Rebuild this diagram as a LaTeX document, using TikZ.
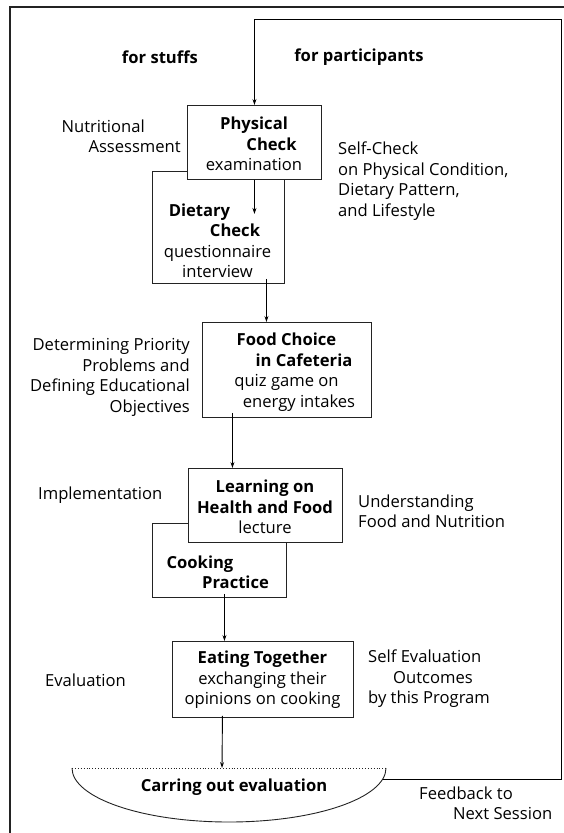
\documentclass[tikz,border=0pt]{standalone}
\usepackage{fontspec}
\setmainfont{Open Sans}
\usepackage{tikz}
\usetikzlibrary{arrows.meta,positioning,calc}
\definecolor{linegray}{RGB}{35,35,35}
\tikzset{
  box/.style={
    draw=linegray,
    line width=0.9pt,
    fill=white,
    inner sep=0pt,
    anchor=north west
  },
  txt/.style={align=center, inner sep=0pt, font=\fontsize{16.6}{20.5}\selectfont},
  note/.style={align=left, inner sep=0pt, anchor=west, font=\fontsize{16.6}{20.5}\selectfont},
  head/.style={inner sep=0pt, font=\fontsize{16.6}{20.5}\selectfont\bfseries},
  flow/.style={-{Stealth[length=6pt,width=4pt]}, line width=0.9pt, draw=black}
}

\begin{document}
\begin{tikzpicture}[x=1pt, y=1pt]
    \useasboundingbox (0,0) rectangle (564,-833);
    % outer frame
    \draw[linegray, line width=1.2pt] (564,-7) -- (10,-7) -- (10,-833);
    \node[head] (h1) at (160,-57) {for stuffs};
    \node[head] (h2) at (359,-57) {for participants};
    % boxes
    \node[box, minimum width=132, minimum height=112] (n2) at (152,-171) {};
    \node[box, minimum width=134, minimum height=74] (n1) at (187,-105) {};
    \node[box, minimum width=169, minimum height=95] (n3) at (202,-322) {};
    \node[box, minimum width=134, minimum height=74] (n5) at (152,-523) {};
    \node[box, minimum width=154, minimum height=74] (n4) at (188,-468) {};
    \node[box, minimum width=181, minimum height=76] (n6) at (172,-641) {};
    \node[txt] (t1) at (254,-144) {\textbf{Physical}\\\hspace*{35pt}\textbf{Check}\\examination};
    \node[txt] (t2) at (217.5,-241) {\textbf{Dietary}\hspace*{36pt}\\\hspace*{35pt}\textbf{Check}\\questionnaire\\interview};
    \node[txt] (t3) at (286.5,-372) {\textbf{Food Choice}\\\hspace*{35pt}\textbf{in Cafeteria}\\quiz game on\hspace*{30pt}\\\hspace*{25pt}energy intakes};
    \node[txt] (t4) at (265,-507) {\textbf{Learning on}\\\textbf{Health and Food}\\lecture};
    \node[txt] (t5) at (219,-572.5) {\textbf{Cooking}\hspace*{38pt}\\\hspace*{33pt}\textbf{Practice}};
    \node[txt] (t6) at (262.5,-680) {\textbf{Eating Together}\\exchanging their\\opinions on cooking};
    % evaluation half ellipse
    \coordinate (ev) at (229,-768);
    \draw[linegray, line width=0.9pt] ($(ev)+(-157,0)$) arc[start angle=180, end angle=360, x radius=157, y radius=54];
    \draw[linegray, line width=0.9pt, dotted] ($(ev)+(-157,0)$) -- ($(ev)+(157,0)$);
    \node[head] (t7) at (234,-787) {Carring out evaluation};
    \coordinate (fb) at ($(ev)+(-12:157 and 54)$);
    % side notes
    \node[note, align=right, anchor=east] (l1) at (181,-136.5) {Nutritional\hspace*{36pt}\\Assessment};
    \node[note, align=right, anchor=east] (l2) at (190,-377.5) {Determining Priority\\Problems and\\Defining Educational\\Objectives};
    \node[note] (l3) at (38,-495) {Implementation};
    \node[note] (l4) at (45,-680) {Evaluation};
    \node[note] (r1) at (338,-181) {Self-Check\\on Physical Condition,\\Dietary Pattern,\\and Lifestyle};
    \node[note] (r2) at (358,-511.5) {Understanding\\Food and Nutrition};
    \node[note] (r3) at (368,-679) {Self Evaluation\\\hspace*{25pt}Outcomes\\by this Program};
    \node[note] (r4) at (419,-803.5) {Feedback to\\\hspace*{34pt}Next Session};
    % arrows
    \coordinate (c1) at ($(n1.south)+(0,-34)$);
    \draw[flow] (fb) -| (561,-19) -| (n1.north);
    \draw[flow] (n1.south) -- (c1);
    \draw[flow] ($(n2.south)+(48,5)$) -- ($(n3.north)+(-20.5,0)$);
    \draw[flow] ($(n3.south)+(-54.5,5)$) -- ($(n4.north)+(-33,0)$);
    \draw[flow] ($(n5.south)+(5,4)$) -- ($(n6.north)+(-38.5,0)$);
    \draw[flow] ($(n6.south)+(-40.5,2)$) -- ($(ev)+(-7,0)$);
  \end{tikzpicture}
\end{document}
